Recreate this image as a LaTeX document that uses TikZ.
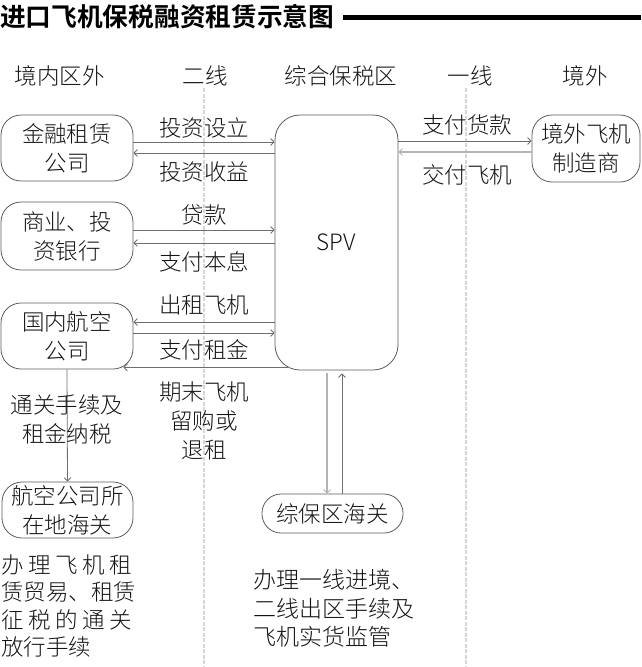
\documentclass[tikz,border=0pt]{standalone}
\usepackage{fontspec}
\newfontfamily\cjk{Noto Sans CJK SC}[UprightFont={* Light}, BoldFont={* Bold}]
\newfontfamily\cjktitle{Noto Sans CJK SC}[UprightFont={* Bold}]
\usetikzlibrary{arrows.meta,calc}
\definecolor{linegray}{HTML}{6E6E6E}
\definecolor{lightline}{HTML}{B4B4B4}
\definecolor{boxgray}{HTML}{5C5C5C}
\definecolor{sepgray}{HTML}{D6D6D6}
\definecolor{txt}{HTML}{141414}
\tikzset{
  base/.style={font={\cjk\fontsize{22.5}{29}\selectfont}, text=txt, inner sep=0pt},
  box/.style={base, draw=boxgray, line width=0.8pt, rounded corners=20pt, align=center},
  lbl/.style={base, align=center},
  arr/.style={draw=linegray, line width=0.8pt, -{Straight Barb[length=3.5pt,width=7pt]}},
  larr/.style={draw=lightline, line width=1.6pt, -{Straight Barb[length=3.5pt,width=7pt,line width=0.8pt]}},
  sep/.style={draw=sepgray, line width=1.3pt, dash pattern=on 4pt off 1.5pt},
}
\begin{document}
\begin{tikzpicture}[x=1pt,y=-1pt]
\useasboundingbox (0,0) rectangle (641,667);
% separators
\coordinate (s1t) at (204,88); \coordinate (s1b) at (204,667);
\coordinate (s2t) at (466,88); \coordinate (s2b) at (466,667);
\draw[sep] (s1t) -- (s1b);
\draw[sep] (s2t) -- (s2b);
% title
\node[base, anchor=west, font={\cjktitle\fontsize{25.7}{30}\selectfont}, text=black] (title) at (0,17) {进口飞机保税融资租赁示意图};
\coordinate (tl1) at (343,17); \coordinate (tl2) at (641,17);
\draw[line width=5pt, black] (tl1) -- (tl2);
% headers
\node[lbl] (h1) at (60,76) {境内区外};
\node[lbl] (h2) at (205,76) {二线};
\node[lbl] (h3) at (341,76) {综合保税区};
\node[lbl] (h4) at (470,76) {一线};
\node[lbl] (h5) at (585,76) {境外};
% boxes
\node[box, minimum width=132pt, minimum height=66pt] (jr) at (67,148) {金融租赁\\公司};
\node[box, minimum width=132pt, minimum height=68pt] (sy) at (67,236) {商业、投\\资银行};
\node[box, minimum width=132pt, minimum height=66pt] (gn) at (67,336) {国内航空\\公司};
\node[box, minimum width=131pt, minimum height=56pt] (hk) at (67.5,510) {航空公司所\\在地海关};
\node[box, rounded corners=25pt, minimum width=123pt, minimum height=255pt] (spv) at (336.5,242.5) {SPV};
\node[box, minimum width=108pt, minimum height=67pt] (zz) at (586,148.5) {境外飞机\\制造商};
\node[box, rounded corners=19pt, minimum width=141pt, minimum height=39pt] (zb) at (332.5,513.5) {综保区海关};
% connectors left
\draw[arr] (jr.east |- 0,142) -- (spv.west |- 0,142);
\draw[arr] (spv.west |- 0,153) -- (jr.east |- 0,153);
\draw[arr] (sy.east |- 0,230) -- (spv.west |- 0,230);
\draw[arr] (spv.west |- 0,243) -- (sy.east |- 0,243);
\draw[arr] (spv.west |- 0,322) -- (gn.east |- 0,322);
\draw[arr] (gn.east |- 0,333) -- (spv.west |- 0,333);
\draw[arr] ($(spv.south west)+(13,-3)$) -- ($(gn.south east)+(-10,-2)$);
% connectors right
\draw[arr] (spv.east |- 0,141) -- (zz.west |- 0,141);
\draw[larr] (zz.west |- 0,152) -- (spv.east |- 0,152);
% vertical
\draw[arr] (gn.south) -- (hk.north);
\draw[larr] (spv.south -| 327,0) ++(0,3) -- (zb.north -| 327,0);
\draw[arr] (zb.north -| 342,0) -- ($(spv.south -| 342,0)+(0,3)$);
% labels
\node[lbl] (l1) at (204,128) {投资设立};
\node[lbl] (l2) at (204,172) {投资收益};
\node[lbl] (l3) at (204,215) {贷款};
\node[lbl] (l4) at (204,262) {支付本息};
\node[lbl] (l5) at (204,305) {出租飞机};
\node[lbl] (l6) at (204,350) {支付租金};
\node[lbl] (l7) at (204,421) {期末飞机\\留购或\\退租};
\node[lbl] (l8) at (467,125) {支付货款};
\node[lbl] (l9) at (467,175) {交付飞机};
\node[lbl] (l10) at (67,419) {通关手续及\\租金纳税};
% bottom texts
\node[base, align=left, anchor=west, font={\cjk\fontsize{22.5}{27.5}\selectfont}] (t1) at (1,606)
  {\makebox[131pt][s]{办\hfill 理\hfill 飞\hfill 机\hfill 租}\\
   \makebox[131pt][s]{赁贸易、租赁}\\
   \makebox[131pt][s]{征\hfill 税\hfill 的\hfill 通\hfill 关}\\
   放行手续};
\node[base, align=left, anchor=west, font={\cjk\fontsize{23}{28.5}\selectfont}] (t2) at (253,608.5)
  {办理一线进境、\\二线出区手续及\\飞机实货监管};
\end{tikzpicture}
\end{document}
